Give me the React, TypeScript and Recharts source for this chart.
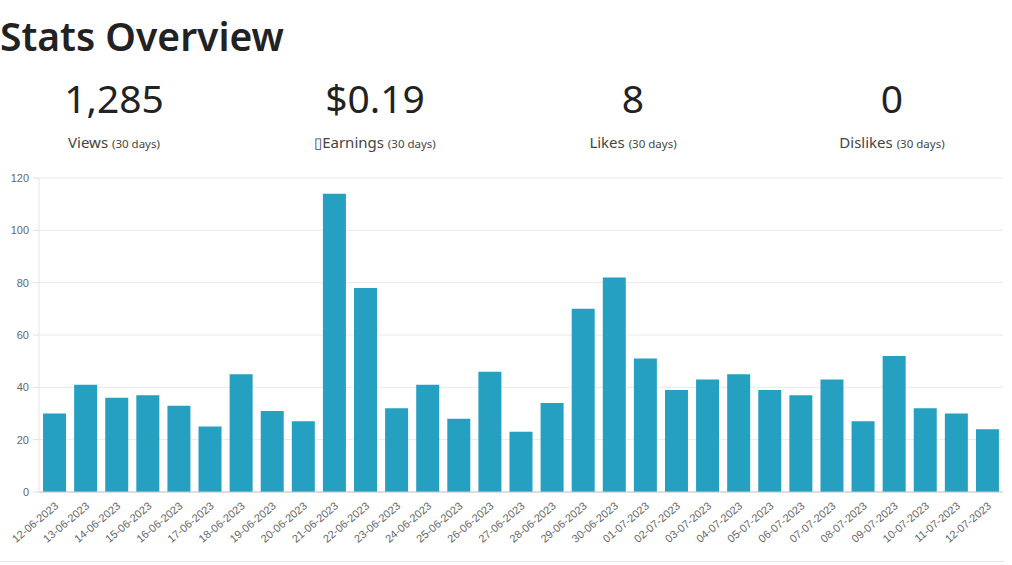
import React from 'react';
import { BarChart, Bar, XAxis, YAxis, CartesianGrid } from 'recharts';

const DATES = [
  '12-06-2023', '13-06-2023', '14-06-2023', '15-06-2023', '16-06-2023', '17-06-2023',
  '18-06-2023', '19-06-2023', '20-06-2023', '21-06-2023', '22-06-2023', '23-06-2023',
  '24-06-2023', '25-06-2023', '26-06-2023', '27-06-2023', '28-06-2023', '29-06-2023',
  '30-06-2023', '01-07-2023', '02-07-2023', '03-07-2023', '04-07-2023', '05-07-2023',
  '06-07-2023', '07-07-2023', '08-07-2023', '09-07-2023', '10-07-2023', '11-07-2023',
  '12-07-2023',
];

const VIEWS = [
  30, 41, 36, 37, 33, 25, 45, 31, 27, 114, 78, 32, 41, 28, 46, 23, 34, 70, 82, 51,
  39, 43, 45, 39, 37, 43, 27, 52, 32, 30, 24,
];

const Y_TICKS = [0, 20, 40, 60, 80, 100, 120];

const STAT_VALUES = ['1,285', '$0.19', '8', '0'];
const STAT_LABELS = ['Views', '\u25AFEarnings', 'Likes', 'Dislikes'];
const STAT_CENTERS = [114, 375, 633, 892];

const data = DATES.map((d, i) => ({ date: d, views: VIEWS[i] }));

const HEAD_FONT = '"Noto Sans", "Open Sans", sans-serif';
const CHART_FONT = '"Liberation Sans", Arial, sans-serif';

const DateTick = (props: any) => {
  const { x, y, payload } = props;
  return (
    <g transform={`translate(${x + 2},${y + 4})`}>
      <text
        x={0}
        y={0}
        dy={4}
        textAnchor="end"
        transform="rotate(-40)"
        fontSize={11}
        fill="#666"
        fontFamily={CHART_FONT}
      >
        {payload.value}
      </text>
    </g>
  );
};

const CountTick = (props: any) => {
  const { x, y, payload } = props;
  return (
    <text x={x - 2} y={y} dy={4} textAnchor="end" fontSize={11} fill="#666" fontFamily={CHART_FONT}>
      {payload.value}
    </text>
  );
};

export default function App() {
  return (
    <div style={{ position: 'relative', width: 1012, height: 565, background: '#fff', overflow: 'hidden' }}>
      <style>{`body{margin:0}`}</style>
      <div
        style={{
          position: 'absolute',
          left: 0,
          top: 12,
          fontFamily: HEAD_FONT,
          fontWeight: 600,
          fontSize: 39,
          lineHeight: '48px',
          color: '#222',
        }}
      >
        Stats Overview
      </div>

      {STAT_VALUES.map((v, i) => (
        <div
          key={`v-${i}`}
          style={{
            position: 'absolute',
            left: STAT_CENTERS[i] - 120,
            width: 240,
            top: 72,
            textAlign: 'center',
            fontFamily: HEAD_FONT,
            fontSize: 39,
            lineHeight: '52px',
            color: '#222',
          }}
        >
          {v}
        </div>
      ))}

      {STAT_LABELS.map((l, i) => (
        <div
          key={`l-${i}`}
          style={{
            position: 'absolute',
            left: STAT_CENTERS[i] - 120,
            width: 240,
            top: 131,
            textAlign: 'center',
            fontFamily: HEAD_FONT,
            fontSize: 15,
            lineHeight: '22px',
            color: '#444',
          }}
        >
          {l} <span style={{ fontSize: 11.5 }}>(30 days)</span>
        </div>
      ))}

      <div style={{ position: 'absolute', left: 0, top: 165 }}>
        <BarChart
          width={1012}
          height={397}
          data={data}
          margin={{ top: 13, right: 9, bottom: 0, left: 0 }}
          barCategoryGap="13%"
        >
          <CartesianGrid vertical={false} stroke="#e9e9e9" />
          <XAxis
            dataKey="date"
            interval={0}
            tick={<DateTick />}
            tickLine={false}
            axisLine={{ stroke: '#c8c8c8' }}
            height={70}
          />
          <YAxis
            domain={[0, 120]}
            ticks={Y_TICKS}
            width={39}
            tickLine={{ stroke: '#e0e0e0' }}
            tickSize={6}
            axisLine={{ stroke: '#e6e6e6' }}
            tick={<CountTick />}
          />
          <Bar dataKey="views" fill="#26a0c1" isAnimationActive={false} />
        </BarChart>
      </div>

      <div style={{ position: 'absolute', left: 0, top: 561, width: 1004, height: 0, borderTop: '1px solid #e6e6e6' }} />
    </div>
  );
}
